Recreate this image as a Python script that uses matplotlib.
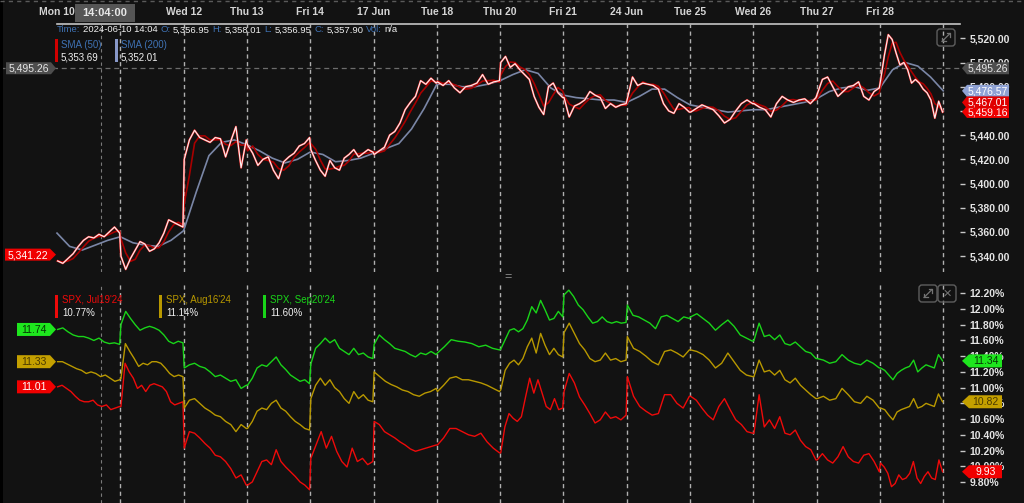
import numpy as np
import pandas as pd
import matplotlib
matplotlib.use("Agg")
import matplotlib.pyplot as plt
from matplotlib.patches import Polygon, Rectangle, FancyBboxPatch
from matplotlib.lines import Line2D
from matplotlib.offsetbox import TextArea, HPacker, AnnotationBbox
from matplotlib.transforms import Affine2D, blended_transform_factory

plt.rcParams['font.family'] = ['Liberation Sans', 'DejaVu Sans']

# ---------------- data ----------------
# day labels along the top axis ("Tue 11" sits under the cursor-time box and is not shown)
day_labels = ["Mon 10", "", "Wed 12", "Thu 13", "Fri 14", "17 Jun", "Tue 18",
              "Thu 20", "Fri 21", "24 Jun", "Tue 25", "Wed 26", "Thu 27", "Fri 28"]

# SPX intraday price, one list per trading day (evenly spaced through the session)
spx_by_day = [
    [5336, 5334, 5338, 5342, 5348, 5353, 5356, 5355, 5358, 5356, 5360, 5364, 5359],
    [5340, 5329, 5338, 5345, 5352, 5350, 5344, 5346, 5351, 5359, 5370, 5368, 5366, 5364],
    [5420, 5436, 5444, 5438, 5436, 5434, 5438, 5437, 5422, 5435, 5447, 5413, 5436],
    [5432, 5425, 5415, 5420, 5422, 5411, 5404, 5418, 5422, 5425, 5431, 5433, 5438],
    [5428, 5419, 5411, 5406, 5419, 5413, 5411, 5421, 5424, 5428, 5422, 5425, 5428, 5426],
    [5424, 5427, 5430, 5440, 5443, 5450, 5461, 5467, 5472, 5485, 5482, 5487, 5483],
    [5484, 5481, 5485, 5479, 5475, 5480, 5481, 5483, 5490, 5482, 5484, 5485],
    [5500, 5505, 5496, 5499, 5494, 5490, 5486, 5472, 5463, 5457, 5480, 5483, 5475, 5471],
    [5471, 5455, 5464, 5466, 5469, 5476, 5473, 5471, 5462, 5466, 5463, 5465, 5466],
    [5470, 5488, 5481, 5483, 5482, 5481, 5478, 5466, 5460, 5458, 5466, 5463, 5459],
    [5459, 5462, 5465, 5463, 5461, 5456, 5450, 5453, 5460, 5466, 5469, 5466],
    [5466, 5463, 5461, 5455, 5466, 5472, 5469, 5467, 5469, 5470, 5466, 5471],
    [5474, 5486, 5488, 5480, 5472, 5476, 5480, 5481, 5484, 5472, 5469, 5476, 5479],
    [5485, 5506, 5523, 5519, 5508, 5498, 5500, 5494, 5483, 5486, 5483, 5478, 5475, 5469, 5454, 5468, 5459],
]

# SMA(200) read every fifth of a day, from Mon 10 open to Fri 28 close
sma200 = [5359, 5348, 5345, 5349, 5353,
          5356, 5351, 5349, 5348, 5353,
          5361, 5393, 5423, 5434, 5436,
          5432, 5427, 5421, 5417, 5420,
          5426, 5424, 5418, 5419, 5421,
          5425, 5429, 5433, 5445, 5462,
          5482, 5482, 5480, 5480, 5482,
          5485, 5490, 5494, 5491, 5479,
          5473, 5471, 5470, 5469, 5469,
          5467, 5472, 5478, 5478, 5471,
          5465, 5463, 5461, 5459, 5460,
          5461, 5461, 5463, 5465, 5467,
          5470, 5476, 5479, 5480, 5477,
          5479, 5494, 5500, 5497, 5488,
          5476.6]
sma50_window = 3

# implied volatility (%) per day
jul19_by_day = [
    [11.01, 11.03, 10.99, 10.95, 10.89, 10.84, 10.82, 10.82, 10.84, 10.78, 10.76, 10.78, 10.72, 10.74, 10.76],
    [10.76, 11.31, 11.20, 11.12, 10.99, 11.03, 10.95, 11.03, 11.05, 11.03, 11.01, 10.95, 10.82, 10.78, 10.80, 10.82],
    [10.23, 10.44, 10.42, 10.36, 10.29, 10.23, 10.14, 10.12, 10.06, 9.97, 9.85, 9.89, 9.76],
    [9.76, 9.80, 9.93, 10.06, 10.08, 10.02, 10.21, 10.06, 9.99, 9.93, 9.87, 9.80, 9.76, 9.70],
    [10.10, 10.27, 10.44, 10.23, 10.38, 10.19, 10.06, 9.99, 10.23, 10.06, 10.10, 10.02, 10.06],
    [10.57, 10.53, 10.44, 10.40, 10.36, 10.31, 10.27, 10.22, 10.19, 10.21, 10.23, 10.25, 10.27],
    [10.27, 10.36, 10.48, 10.48, 10.44, 10.40, 10.38, 10.42, 10.31, 10.23, 10.17],
    [10.17, 10.50, 10.67, 10.61, 10.57, 10.63, 10.88, 11.12, 10.93, 11.10, 10.93, 10.76, 10.72, 10.86, 10.72, 10.74],
    [10.95, 11.18, 11.06, 10.88, 10.78, 10.67, 10.55, 10.59, 10.69, 10.61, 10.63, 10.59, 10.65],
    [11.14, 10.89, 10.76, 10.70, 10.65, 10.67, 10.91, 10.91, 10.80, 10.74, 10.89],
    [10.89, 10.84, 10.74, 10.65, 10.59, 10.76, 10.86, 10.72, 10.59, 10.53, 10.44, 10.42],
    [10.42, 10.91, 10.50, 10.59, 10.48, 10.63, 10.42, 10.40, 10.46, 10.33, 10.25, 10.21, 10.08],
    [10.08, 10.16, 10.08, 10.04, 10.12, 10.25, 10.12, 10.06, 10.04, 10.14, 10.16, 10.06, 9.93],
    [10.04, 9.99, 9.91, 9.74, 9.78, 9.89, 9.83, 9.85, 9.91, 10.06, 9.85, 9.78, 9.87, 9.93, 9.85, 9.83, 10.08, 9.93],
]
aug16_by_day = [
    [11.33, 11.33, 11.30, 11.27, 11.24, 11.22, 11.18, 11.20, 11.18, 11.14, 11.16, 11.12, 11.08, 11.10],
    [11.12, 11.56, 11.46, 11.37, 11.27, 11.31, 11.29, 11.33, 11.33, 11.31, 11.25, 11.18, 11.14, 11.16, 11.14],
    [10.74, 10.84, 10.86, 10.80, 10.74, 10.70, 10.65, 10.63, 10.57, 10.53, 10.44, 10.53, 10.48],
    [10.48, 10.57, 10.70, 10.74, 10.72, 10.80, 10.84, 10.74, 10.70, 10.63, 10.57, 10.53, 10.48, 10.46],
    [10.86, 11.03, 11.12, 11.03, 11.10, 11.00, 10.95, 10.86, 10.80, 10.95, 10.86, 10.91, 10.84, 10.82],
    [11.20, 11.14, 11.08, 11.04, 11.01, 10.97, 10.95, 10.91, 10.89, 10.93, 10.95, 10.99],
    [10.95, 11.03, 11.12, 11.14, 11.10, 11.10, 11.08, 11.06, 11.03, 10.99, 10.95],
    [10.97, 11.22, 11.31, 11.35, 11.29, 11.37, 11.52, 11.63, 11.44, 11.69, 11.54, 11.42, 11.50, 11.42, 11.39],
    [11.70, 11.82, 11.69, 11.56, 11.48, 11.37, 11.33, 11.35, 11.44, 11.35, 11.37, 11.33, 11.35],
    [11.65, 11.50, 11.46, 11.40, 11.33, 11.29, 11.46, 11.48, 11.44, 11.39, 11.48],
    [11.48, 11.46, 11.42, 11.35, 11.25, 11.31, 11.44, 11.33, 11.22, 11.16, 11.14],
    [11.14, 11.35, 11.20, 11.22, 11.16, 11.22, 11.10, 11.06, 11.12, 11.03, 10.97, 10.91, 10.86],
    [10.86, 10.89, 10.84, 10.86, 10.99, 10.91, 10.82, 10.80, 10.89, 10.84, 10.74],
    [10.74, 10.72, 10.65, 10.59, 10.69, 10.72, 10.74, 10.76, 10.86, 10.74, 10.76, 10.80, 10.78, 10.76, 10.92, 10.82],
]
sep20_by_day = [
    [11.74, 11.76, 11.71, 11.67, 11.65, 11.65, 11.63, 11.60, 11.63, 11.58, 11.56, 11.57, 11.55],
    [11.80, 11.97, 11.88, 11.80, 11.73, 11.76, 11.78, 11.76, 11.73, 11.67, 11.59, 11.56, 11.59, 11.57],
    [11.25, 11.29, 11.31, 11.27, 11.25, 11.20, 11.14, 11.16, 11.12, 11.08, 11.10, 10.99, 11.03],
    [11.03, 11.12, 11.25, 11.29, 11.27, 11.33, 11.39, 11.29, 11.23, 11.16, 11.12, 11.08, 11.10, 11.05],
    [11.30, 11.50, 11.56, 11.63, 11.57, 11.61, 11.50, 11.46, 11.42, 11.50, 11.42, 11.44, 11.39, 11.37],
    [11.55, 11.67, 11.61, 11.56, 11.50, 11.48, 11.46, 11.42, 11.39, 11.44, 11.42, 11.46, 11.42],
    [11.44, 11.52, 11.61, 11.59, 11.58, 11.56, 11.52, 11.54, 11.50, 11.48],
    [11.49, 11.61, 11.73, 11.75, 11.71, 11.75, 11.86, 12.03, 11.95, 12.11, 11.99, 11.86, 11.88, 11.97, 11.90],
    [12.18, 12.24, 12.16, 12.05, 11.99, 11.90, 11.82, 11.84, 11.90, 11.84, 11.82, 11.84, 11.82, 11.83],
    [12.05, 11.92, 11.90, 11.86, 11.82, 11.75, 11.90, 11.92, 11.88, 11.84, 11.90, 11.88],
    [11.90, 11.94, 11.88, 11.82, 11.73, 11.80, 11.86, 11.78, 11.67, 11.63, 11.59],
    [11.60, 11.82, 11.65, 11.67, 11.61, 11.67, 11.56, 11.54, 11.58, 11.52, 11.46, 11.44, 11.37],
    [11.37, 11.35, 11.31, 11.33, 11.42, 11.35, 11.31, 11.29, 11.35, 11.31, 11.25],
    [11.25, 11.22, 11.16, 11.10, 11.18, 11.22, 11.25, 11.27, 11.35, 11.20, 11.25, 11.29, 11.27, 11.25, 11.42, 11.34],
]

price_ticks = [5340, 5360, 5380, 5400, 5420, 5440, 5460, 5480, 5500, 5520]
iv_ticks = [9.8, 10.0, 10.2, 10.4, 10.6, 10.8, 11.0, 11.2, 11.4, 11.6, 11.8, 12.0, 12.2]

cursor_clock = "14:04:00"
cursor_minutes = 14 * 60 + 4
session_open, session_close = 9 * 60 + 30, 16 * 60
cursor_stamp = "2024-06-10 14:04"
ohlc_labels = ["O:", "H:", "L:", "C:"]
ohlc_values = [5356.95, 5358.01, 5356.95, 5357.90]
cursor_price = 5495.26
first_price = 5341.22
sma_names = ["SMA (50)", "SMA (200)"]
sma_cursor_values = [5353.69, 5352.01]
last_spx, last_sma50, last_sma200 = 5459.16, 5467.01, 5476.57
iv_names = ["SPX, Jul19'24", "SPX, Aug16'24", "SPX, Sep20'24"]
iv_cursor_values = [10.77, 11.14, 11.60]
iv_first = [11.01, 11.33, 11.74]
iv_last = [9.93, 10.82, 11.34]

# ---------------- style ----------------
BG = '#121212'
C_JUL, C_AUG, C_SEP = '#ee0a0a', '#b89800', '#19d419'
C_SMA200 = '#7a86a6'
C_SMA50 = '#a80000'
C_LBL = '#3f72b4'
GRID = '#b0b0b0'

W, H = 1024, 503
fig = plt.figure(figsize=(W / 100, H / 100), dpi=100, facecolor=BG)
pxT = Affine2D().scale(1 / W, -1 / H).translate(0, 1) + fig.transFigure


def frac(y0, y1):
    return 1 - y1 / H, (y1 - y0) / H


b, h = frac(24, 272)
ax_top = fig.add_axes([0, b, 960 / W, h])
b, h = frac(283, 503)
ax_bot = fig.add_axes([0, b, 960 / W, h])

n_days = len(spx_by_day)
xmin, xmax = -57 / 63.3, (960 - 57) / 63.3


def day_times(lists):
    return np.concatenate([np.linspace(d + 0.01, d + 0.99, len(v)) for d, v in enumerate(lists)])


t_spx = day_times(spx_by_day)
spx = np.concatenate(spx_by_day)
sma50 = pd.Series(spx).rolling(sma50_window, min_periods=1).mean().to_numpy()
t_sma200 = np.linspace(0, n_days, len(sma200))
cursor_t = (cursor_minutes - session_open) / (session_close - session_open)

for ax in (ax_top, ax_bot):
    ax.set_facecolor('none')
    ax.set_xlim(xmin, xmax)
    ax.set_xticks([])
    for s in ax.spines.values():
        s.set_visible(False)
    for d in range(1, n_days + 1):
        ax.axvline(d, color=GRID, lw=1.0, ls=(0, (3, 2.5)), zorder=1)
    ax.axvline(cursor_t, color='#7a7a7a', lw=0.8, ls=(0, (3, 3)), zorder=1)
    ax.yaxis.tick_right()
    ax.tick_params(axis='y', colors='#c8c8c8', labelcolor='#e4e4e4', length=3.5,
                   width=1, pad=3.5, labelsize=7.5)

# top panel
ax_top.set_ylim(5520 - (272 - 38.3) / 1.21, 5520 + (38.3 - 24) / 1.21)
ax_top.set_yticks(price_ticks)
ax_top.set_yticklabels([f"{v:,.2f}" for v in price_ticks])
ax_top.spines['top'].set_visible(True)
ax_top.spines['top'].set_bounds(0, xmax)
ax_top.spines['top'].set_color('#c4c4c4')
ax_top.spines['top'].set_linewidth(1.2)
ax_top.axhline(cursor_price, color='#6c6c6c', lw=0.9, ls=(0, (4, 3)), zorder=1)
ax_top.plot(t_sma200, sma200, color=C_SMA200, lw=1.2, zorder=2)
ax_top.plot(t_spx, sma50, color=C_SMA50, lw=1.2, zorder=3)
ax_top.plot(t_spx, spx, color='#ff2626', lw=1.4, zorder=4)
ax_top.plot(t_spx, spx, color='#f4f4f4', lw=0.8, zorder=5)

# bottom panel
ax_bot.set_ylim(12.20 - (503 - 293.3) / 78.6, 12.20 + (293.3 - 283) / 78.6)
ax_bot.set_yticks(iv_ticks)
ax_bot.set_yticklabels([f"{v:.2f}%" for v in iv_ticks])
for lists, c in ((jul19_by_day, C_JUL), (aug16_by_day, C_AUG), (sep20_by_day, C_SEP)):
    ax_bot.plot(day_times(lists), np.concatenate(lists), color=c, lw=1.0, zorder=3)

for ax in (ax_top, ax_bot):
    for lbl in ax.get_yticklabels():
        lbl.set_fontweight('bold')

# date labels along the top
dateT = blended_transform_factory(ax_top.transData, pxT)
for d, lab in enumerate(day_labels):
    if lab:
        fig.text(d, 12, lab, transform=dateT, ha='center', va='center', fontsize=7.5,
                 fontweight='bold', color='#d4d4d4')

# decorations
fig.add_artist(Line2D([0, W], [1.5, 1.5], transform=pxT, color='#5a5a5a', lw=1, ls=(0, (3, 3))))
fig.add_artist(Rectangle((0, 0), 3, H, transform=pxT, fc='#000000', ec='none'))
fig.add_artist(Rectangle((75, 4), 60, 18, transform=pxT, fc='#555555', ec='none', zorder=6))
fig.text(105, 13.5, cursor_clock, transform=pxT, ha='center', va='center', fontsize=8,
         fontweight='bold', color='#e8e8e8', zorder=7)
fig.text(508, 277, "=", transform=pxT, ha='center', va='center', fontsize=9, color='#8a8a8a')

zc = [10]


def tag(ax, value, text, bg, fg, side, x0, x1, tip, hgt=12):
    _, yd = ax.transData.transform((0, value))
    y = H - yd
    if side == 'right':
        verts = [(tip, y), (x0, y - hgt / 2), (x1, y - hgt / 2), (x1, y + hgt / 2), (x0, y + hgt / 2)]
    else:
        verts = [(x0, y - hgt / 2), (x1, y - hgt / 2), (tip, y), (x1, y + hgt / 2), (x0, y + hgt / 2)]
    zc[0] += 1
    fig.add_artist(Polygon(verts, closed=True, transform=pxT, fc=bg, ec='none', zorder=zc[0]))
    fig.text((x0 + x1) / 2, y + 0.5, text, transform=pxT, ha='center', va='center', fontsize=7.5,
             color=fg, zorder=zc[0] + 0.5)


tag(ax_top, cursor_price, f"{cursor_price:,.2f}", '#4e4e4e', '#e6e6e6', 'left', 6, 51, 56)
tag(ax_top, first_price, f"{first_price:,.2f}", '#f00000', '#ffffff', 'left', 5, 50, 56)
tag(ax_top, cursor_price, f"{cursor_price:,.2f}", '#4e4e4e', '#e6e6e6', 'right', 967, 1009, 962)
tag(ax_top, last_sma200, f"{last_sma200:,.2f}", '#8fa2d4', '#ffffff', 'right', 967, 1009, 962)
tag(ax_top, last_spx, f"{last_spx:,.2f}", '#f00000', '#ffffff', 'right', 967, 1009, 962)
tag(ax_top, last_sma50, f"{last_sma50:,.2f}", '#e00000', '#ffffff', 'right', 967, 1009, 962)

fgs = ['#ffffff', '#4a3a00', '#063806']
bgs = ['#f00000', '#c4a000', '#1ee61e']
for v0, v1, bgc, fgc in zip(iv_first, iv_last, bgs, fgs):
    tag(ax_bot, v0, f"{v0:.2f}", bgc, fgc, 'left', 17, 50, 56, hgt=13)
    tag(ax_bot, v1, f"{v1:.2f}", bgc, fgc, 'right', 969, 1002, 962, hgt=13)


# legends
def packed_line(parts, x, y, fs):
    boxes = [TextArea(s, textprops=dict(color=c, fontsize=fs)) for s, c in parts]
    pk = HPacker(children=boxes, sep=1.9, pad=0, align='baseline')
    ab = AnnotationBbox(pk, (x, y), xycoords=pxT, box_alignment=(0, 0.5), frameon=False, pad=0)
    ab.set_zorder(8)
    fig.add_artist(ab)


parts = [("Time:", C_LBL), (cursor_stamp, '#f0f0f0')]
for lab, val in zip(ohlc_labels, ohlc_values):
    parts += [(lab, C_LBL), (f"{val:,.2f}", '#f0f0f0')]
parts += [("Vol:", C_LBL), ("n/a", '#f0f0f0')]
packed_line(parts, 57, 30, 6.8)

for (name, val, bar_c, x) in zip(sma_names, sma_cursor_values, ['#d00000', '#8898c8'], [55, 115]):
    fig.add_artist(Rectangle((x, 39), 3, 23, transform=pxT, fc=bar_c, ec='none'))
    fig.text(x + 6, 44.5, name, transform=pxT, fontsize=7, color=C_LBL, va='center')
    fig.text(x + 6, 57, f"{val:,.2f}", transform=pxT, fontsize=7, color='#f0f0f0', va='center')

for name, val, c, x in zip(iv_names, iv_cursor_values, [C_JUL, C_AUG, C_SEP], [55, 159, 263]):
    fig.add_artist(Rectangle((x, 295), 3, 23, transform=pxT, fc=c, ec='none'))
    fig.text(x + 7, 300, name, transform=pxT, fontsize=7, color=c, va='center')
    fig.text(x + 7, 313, f"{val:.2f}%", transform=pxT, fontsize=7, color='#f0f0f0', va='center')

# icons: expand (two-headed diagonal arrow, drawn as a shape) and close
ICON = '#747474'
for (x0, y0, kind) in [(937, 29, 'expand'), (919, 285, 'expand'), (938, 285, 'close')]:
    fig.add_artist(FancyBboxPatch((x0, y0), 18, 17, boxstyle='round,pad=0,rounding_size=3',
                                  transform=pxT, fc='none', ec='#5e5e5e', lw=1))
    if kind == 'expand':
        ax0, ay0, ax1, ay1 = x0 + 5, y0 + 12.5, x0 + 13, y0 + 4.5
        for xs, ys in [([ax0, ax1], [ay0, ay1]),
                       ([ax1 - 3.5, ax1, ax1], [ay1, ay1, ay1 + 3.5]),
                       ([ax0 + 3.5, ax0, ax0], [ay0, ay0, ay0 - 3.5])]:
            fig.add_artist(Line2D(xs, ys, transform=pxT, color=ICON, lw=0.9))
    else:
        fig.text(x0 + 9, y0 + 8.5, '\u2715', transform=pxT, ha='center', va='center', fontsize=8,
                 color=ICON, family=['DejaVu Sans'])

fig.savefig('out.png', dpi=100, facecolor=BG)
